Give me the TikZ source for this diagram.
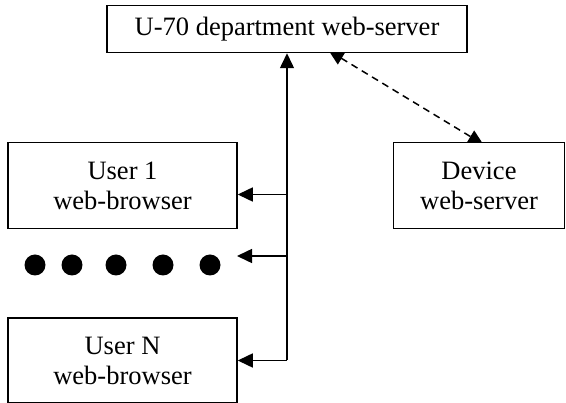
\documentclass[tikz,border=0pt]{standalone}
\usepackage{fontspec}
\setmainfont{Liberation Serif}
\usetikzlibrary{arrows.meta,positioning,calc,backgrounds}

\begin{document}
\begin{tikzpicture}[
    x=1pt, y=-1pt,
    >={Triangle[length=15pt,width=14pt]},
    node distance=88pt and 155pt,
    box/.style={draw, line width=1.5pt, fill=white, align=center,
                inner sep=0pt, font=\fontsize{26.5}{30}\selectfont},
    arr/.style={->, line width=1.5pt},
    link/.style={<->, line width=1.5pt, dash pattern=on 7pt off 5pt,
                 shorten <=-5pt, shorten >=-5pt}
  ]
  \useasboundingbox (0,0) rectangle (566,403);

  \node (srv)   [box, minimum width=360pt, minimum height=47pt] at (287,29) {U-70 department web-server};
  \node (user1) [box, minimum width=229pt, minimum height=86pt] at (122.5,185.5) {User 1\\web-browser};
  \node (dev)   [box, minimum width=171pt, minimum height=86pt, right=of user1] {Device\\web-server};
  \node (userN) [box, minimum width=229pt, minimum height=85pt, below=of user1] {User N\\web-browser};

  % the five dots between the users
  \foreach \x in {35,72,116,163,210}
    \fill (\x,265) circle (10.5pt);

  \coordinate (u1in)   at ([yshift=-9pt]user1.east);
  \coordinate (dotsin) at (237,256);

  \draw[arr] (srv.south |- userN.east) -- (srv.south);
  \draw[arr] (u1in -| srv.south)   -- (u1in);
  \draw[arr] (dotsin -| srv.south) -- (dotsin);
  \draw[arr] (srv.south |- userN.east) -- (userN.east);

  \begin{scope}[on background layer]
    \draw[link] ([xshift=46pt]srv.south) -- (dev.north);
  \end{scope}
\end{tikzpicture}
\end{document}
